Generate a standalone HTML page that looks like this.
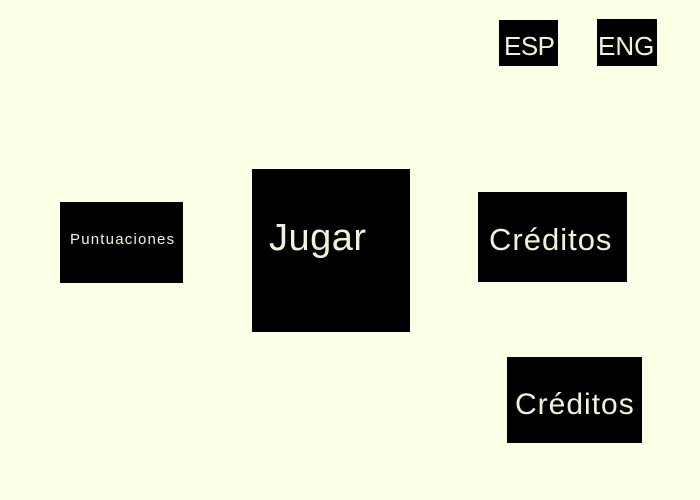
<!DOCTYPE html>
<html><head><meta charset="utf-8"><style>
html,body{margin:0;padding:0;}
body{width:700px;height:500px;background:#fbffe6;position:relative;overflow:hidden;font-family:"Liberation Sans",sans-serif;}
.b{position:absolute;background:#000;}
.t{position:absolute;color:#f3f1d6;line-height:1;white-space:nowrap;}
</style></head><body>
<div class="b" style="left:499px;top:20px;width:59px;height:46px"></div>
<div class="b" style="left:597px;top:19px;width:60px;height:47px"></div>
<div class="b" style="left:60px;top:202px;width:123px;height:81px"></div>
<div class="b" style="left:252px;top:169px;width:158px;height:163px"></div>
<div class="b" style="left:478px;top:192px;width:149px;height:90px"></div>
<div class="b" style="left:507px;top:357px;width:135px;height:86px"></div>
<div class="t" style="left:504px;top:33px;font-size:26px;letter-spacing:-0.5px">ESP</div>
<div class="t" style="left:598px;top:33px;font-size:26px;letter-spacing:0px">ENG</div>
<div class="t" style="left:70px;top:232px;font-size:15px;letter-spacing:1.2px">Puntuaciones</div>
<div class="t" style="left:269px;top:219px;font-size:38px;letter-spacing:0.5px">Jugar</div>
<div class="t" style="left:489px;top:224px;font-size:31px;letter-spacing:1px">Créditos</div>
<div class="t" style="left:515px;top:390px;font-size:30px;letter-spacing:1px">Créditos</div>
</body></html>
